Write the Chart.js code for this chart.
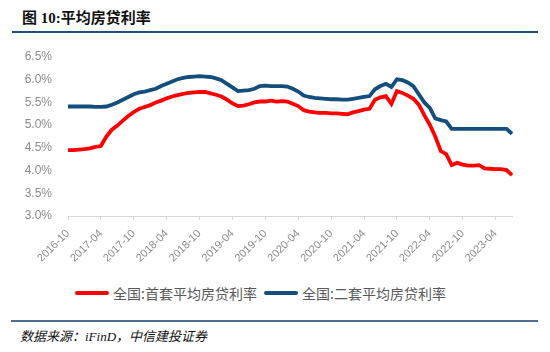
<!DOCTYPE html>
<html>
<head>
<meta charset="utf-8">
<script src="https://cdn.jsdelivr.net/npm/chart.js@4"></script>
<style>
  html, body { margin: 0; padding: 0; background: #fff; }
  body { width: 550px; height: 352px; position: relative; overflow: hidden; }
  .title { position: absolute; left: 22px; top: 6px; font: bold 15px "Liberation Serif", "Noto Sans CJK SC", serif; color: #111; }
  .rule-top { position: absolute; left: 12px; top: 31px; width: 526px; height: 2px; background: #1F4E79; }
  .rule-bottom { position: absolute; left: 11px; top: 320px; width: 527px; height: 1.5px; background: #4E6E96; }
  .source { position: absolute; left: 20px; top: 326px; font: italic 13px "Liberation Serif", "Noto Sans CJK SC", serif; color: #111; }
  #wrap { position: absolute; left: 0; top: 40px; width: 550px; height: 230px; }
  .legend { position: absolute; top: 281px; left: 75px; height: 20px; font: 14px "Noto Sans CJK SC", sans-serif; color: #595959; white-space: nowrap; }
  .legend span { display: inline-block; vertical-align: middle; }
  .swatch { width: 34px; height: 4px; border-radius: 2px; margin-right: 4px; }
</style>
</head>
<body>
<div class="title">图 10:平均房贷利率</div>
<div class="rule-top"></div>
<div id="wrap"><canvas id="chart"></canvas></div>
<div class="legend">
  <span class="swatch" style="background:#FF0000"></span><span>全国:首套平均房贷利率</span>
  <span class="swatch" style="background:#134E7C;margin-left:4px"></span><span>全国:二套平均房贷利率</span>
</div>
<div class="rule-bottom"></div>
<div class="source">数据来源：iFinD，中信建投证券</div>
<script>
(() => {
  // ---------- Data ----------
  const months = [];
  for (let y = 2016, m = 10; months.length < 82; m++) {
    if (m > 12) { m = 1; y++; }
    months.push(y + '-' + String(m).padStart(2, '0'));
  }

  const firstHome = [
    4.45, 4.45, 4.46, 4.47, 4.49, 4.52, 4.54, 4.75, 4.90, 4.99,
    5.10, 5.20, 5.29, 5.36, 5.40, 5.44, 5.50, 5.54, 5.59, 5.63,
    5.66, 5.69, 5.71, 5.72, 5.73, 5.73, 5.70, 5.67, 5.63, 5.56,
    5.48, 5.42, 5.43, 5.46, 5.50, 5.52, 5.52, 5.54, 5.52, 5.53,
    5.52, 5.47, 5.42, 5.33, 5.30, 5.28, 5.27, 5.27, 5.26, 5.26,
    5.25, 5.24, 5.28, 5.31, 5.34, 5.36, 5.56, 5.61, 5.64, 5.47,
    5.75, 5.71, 5.65, 5.58, 5.45, 5.22, 5.01, 4.75, 4.43, 4.36,
    4.12, 4.17, 4.13, 4.11, 4.11, 4.12, 4.05, 4.04, 4.03, 4.03,
    4.01, 3.90
  ];

  const secondHome = [
    5.41, 5.41, 5.41, 5.41, 5.41, 5.40, 5.40, 5.41, 5.45, 5.50,
    5.56, 5.62, 5.68, 5.72, 5.74, 5.77, 5.80, 5.86, 5.91, 5.96,
    6.01, 6.04, 6.06, 6.07, 6.08, 6.07, 6.06, 6.03, 5.99, 5.91,
    5.83, 5.75, 5.76, 5.77, 5.80, 5.86, 5.87, 5.86, 5.86, 5.86,
    5.85, 5.80, 5.74, 5.65, 5.62, 5.60, 5.59, 5.58, 5.57, 5.57,
    5.56, 5.56, 5.58, 5.60, 5.62, 5.64, 5.79, 5.86, 5.91, 5.84,
    6.01, 5.99, 5.94, 5.86, 5.68, 5.50, 5.38, 5.15, 5.11, 5.08,
    4.92, 4.92, 4.92, 4.92, 4.92, 4.92, 4.92, 4.92, 4.92, 4.92,
    4.92, 4.81
  ];

  const yTicks = [3.0, 3.5, 4.0, 4.5, 5.0, 5.5, 6.0, 6.5];

  // ---------- Chart ----------
  const axisGray = '#D9D9D9';
  const labelGray = '#8C8C8C';

  new Chart(document.getElementById('chart'), {
    type: 'line',
    data: {
      labels: months,
      datasets: [
        { label: '全国:首套平均房贷利率', data: firstHome, borderColor: '#FF0000', borderWidth: 3.8, pointRadius: 0, tension: 0, fill: false },
        { label: '全国:二套平均房贷利率', data: secondHome, borderColor: '#134E7C', borderWidth: 3.8, pointRadius: 0, tension: 0, fill: false }
      ]
    },
    options: {
      responsive: true,
      maintainAspectRatio: false,
      animation: false,
      layout: { padding: { top: 17, right: 38, left: 0, bottom: 0 } },
      plugins: { legend: { display: false }, tooltip: { enabled: false } },
      scales: {
        x: {
          offset: false,
          border: { display: true, color: axisGray, width: 1 },
          grid: {
            drawOnChartArea: false,
            tickLength: 4,
            color: ctx => (ctx.index % 6 === 0 ? axisGray : 'rgba(0,0,0,0)')
          },
          ticks: {
            autoSkip: false,
            minRotation: 45,
            maxRotation: 45,
            padding: 7,
            color: labelGray,
            font: { family: 'Liberation Sans', size: 11 },
            callback: (v, i) => (i % 6 === 0 ? months[i] : '')
          },
          afterFit: s => { s.height = 54; }
        },
        y: {
          min: 3,
          max: 6.5,
          border: { display: false },
          grid: { display: false },
          afterBuildTicks: s => { s.ticks = yTicks.map(v => ({ value: v })); },
          ticks: {
            padding: 8,
            color: labelGray,
            font: { family: 'Liberation Sans', size: 12 },
            callback: v => Number(v).toFixed(1) + '%'
          },
          afterFit: s => { s.width = 68; }
        }
      }
    }
  });
})();
</script>
</body>
</html>
